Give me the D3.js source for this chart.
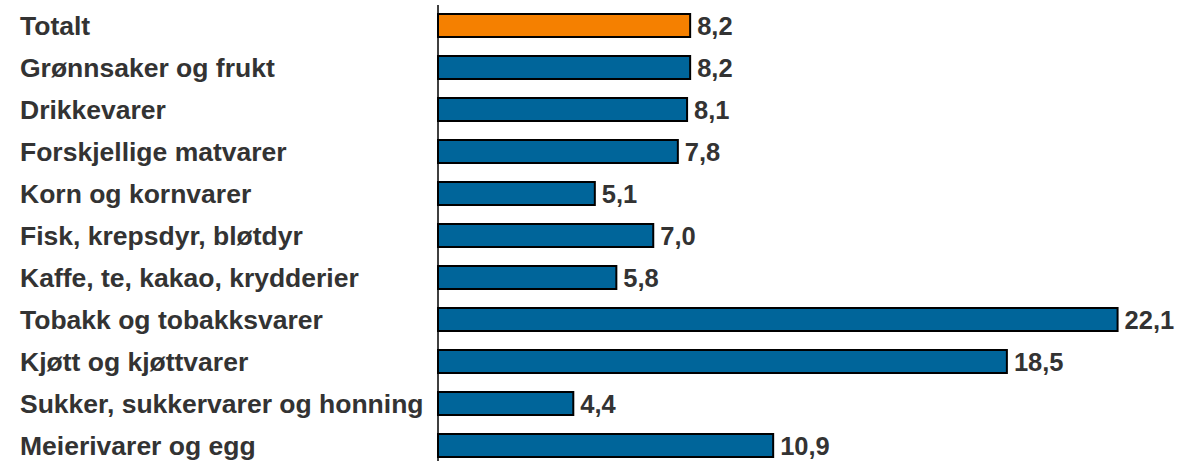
<!DOCTYPE html>
<html>
<head>
<meta charset="utf-8">
<script src="https://d3js.org/d3.v7.min.js"></script>
<style>
  body { margin: 0; background: #fff; }
  svg text { font-family: "Liberation Sans", Arial, sans-serif; font-weight: bold; fill: #333; }
</style>
</head>
<body>
<div id="chart"></div>
<script>
let categories = ["Totalt", "Grønnsaker og frukt", "Drikkevarer", "Forskjellige matvarer",
    "Korn og kornvarer", "Fisk, krepsdyr, bløtdyr", "Kaffe, te, kakao, krydderier",
    "Tobakk og tobakksvarer", "Kjøtt og kjøttvarer", "Sukker, sukkervarer og honning",
    "Meierivarer og egg"];
let values = [8.2, 8.2, 8.1, 7.8, 5.1, 7.0, 5.8, 22.1, 18.5, 4.4, 10.9];
let highlight = ["Totalt"];

let width = 1177,
    height = 461;

let svg = d3.select("#chart")
    .append("svg")
    .attr("width", width)
    .attr("height", height);

let x = d3.scaleLinear()
    .domain([0, 25])
    .range([438, 438 + 25 * 30.75]);

let y = d3.scaleBand()
    .domain(categories)
    .range([14, 457])
    .paddingInner(19 / 42)
    .paddingOuter(0);

let fmt = d => d3.format(".1f")(d).replace(".", ",");

let rows = categories.map((c, i) => ({ name: c, value: values[i] }));

svg.selectAll(".bar")
    .data(rows)
    .enter().append("rect")
    .attr("class", "bar")
    .attr("x", x(0))
    .attr("y", d => y(d.name))
    .attr("width", d => x(d.value) - x(0))
    .attr("height", y.bandwidth())
    .attr("fill", d => highlight.includes(d.name) ? "#f58000" : "#00659a")
    .attr("stroke", "#000")
    .attr("stroke-width", 2);

// category labels
svg.selectAll(".cat")
    .data(rows)
    .enter().append("text")
    .attr("class", "cat")
    .attr("x", 20)
    .attr("y", d => y(d.name) + y.bandwidth() / 2)
    .attr("dy", "0.37em")
    .style("font-size", "26.5px")
    .text(d => d.name);

// value labels
svg.selectAll(".val")
    .data(rows)
    .enter().append("text")
    .attr("class", "val")
    .attr("x", d => x(d.value) + 7)
    .attr("y", d => y(d.name) + y.bandwidth() / 2)
    .attr("dy", "0.37em")
    .style("font-size", "25.5px")
    .text(d => fmt(d.value));

// vertical axis line
svg.append("line")
    .attr("x1", x(0)).attr("x2", x(0))
    .attr("y1", 5).attr("y2", height)
    .attr("stroke", "#000")
    .attr("stroke-width", 1.5);
</script>
</body>
</html>
